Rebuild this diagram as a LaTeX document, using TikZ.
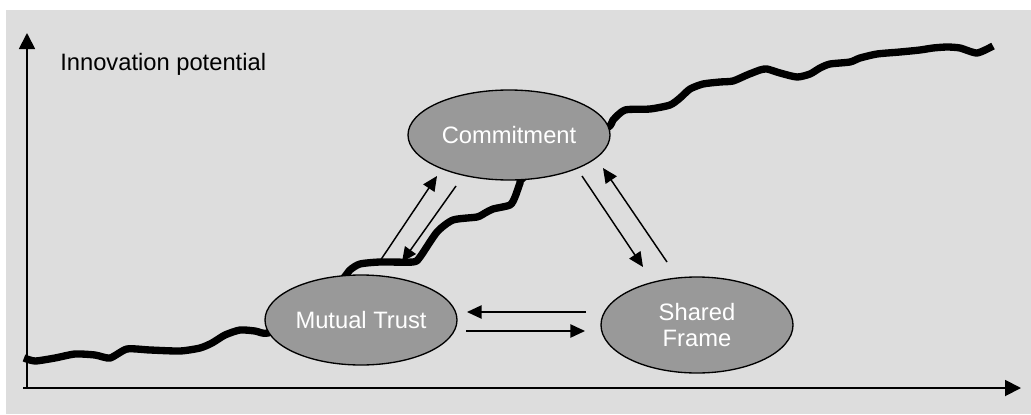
\documentclass[tikz,border=0pt]{standalone}
\usepackage{fontspec}
\setmainfont{Liberation Sans}
\usetikzlibrary{arrows.meta,shapes.geometric}
\definecolor{panel}{HTML}{DDDDDD}
\definecolor{bubblefill}{HTML}{999999}
\begin{document}
\begin{tikzpicture}[x=0.75pt,y=-0.75pt,
  bubble/.style={ellipse,draw=black,line width=1pt,fill=bubblefill,text=white,
    inner sep=0pt,align=center,font=\fontsize{17.8}{19.5}\selectfont},
  axis/.style={line width=1.4pt,-{Triangle[length=12pt,width=12pt]}},
  link/.style={line width=1.1pt,-{Triangle[length=11pt,width=10pt]}},
  growth/.style={line width=5.5pt,line join=round}]
\useasboundingbox (0,0) rectangle (1031,414);
\fill[panel] (6,10) rectangle (1031,414);

% axes
\coordinate (origin) at (27,388);
\coordinate (ytop) at (27,33);
\coordinate (xstart) at (23,388);
\coordinate (xend) at (1021,388);
\draw[axis] (origin) -- (ytop);
\draw[axis] (xstart) -- (xend);
\node[anchor=base west,inner sep=0pt,font=\fontsize{17.8}{19.5}\selectfont] (ylabel) at (60,70) {Innovation potential};

% growth curve (runs behind the ellipses)
\draw[growth] plot[smooth,tension=0.4] coordinates {
  (24,358) (35,361) (55,358) (75,354) (95,355) (110,358) (127,349) (150,350)
  (180,351) (200,348) (212,343) (225,335) (240,330) (255,331) (268,333)
  (300,318) (340,282) (350,270) (360,264) (380,262) (413,262) (420,257)
  (437,232) (453,220) (477,217) (485,213) (493,209) (510,205) (515,197)
  (520,183) (523,178) (560,150) (607,128) (613,120) (625,110) (650,109)
  (670,105) (680,98) (690,89) (703,84) (720,82) (733,81) (747,75) (760,70)
  (767,69) (780,73) (797,77) (810,74) (820,68) (830,64) (850,62) (860,58)
  (877,54) (900,52) (920,50) (933,48) (947,47) (960,48) (977,53) (993,46)};

% the three factors
\node[bubble,minimum width=151.5pt,minimum height=67.5pt] (ct) at (509,135) {Commitment};
\node[bubble,minimum width=144pt,minimum height=67.5pt] (mt) at (361,320) {Mutual Trust};
\node[bubble,minimum width=144pt,minimum height=72pt] (sf) at (697,325) {Shared\\Frame};

% arrow ends between the factors
\coordinate (mtct1) at (380,261);
\coordinate (ctmt1) at (437,176);
\coordinate (ctmt2) at (456,186);
\coordinate (mtct2) at (402,262);
\coordinate (ctsf1) at (582,176);
\coordinate (sfct1) at (643,267);
\coordinate (sfct2) at (667,262);
\coordinate (ctsf2) at (603,168);
\coordinate (sfmt1) at (586,312);
\coordinate (mtsf1) at (467,312);
\coordinate (mtsf2) at (466,331);
\coordinate (sfmt2) at (585,331);

\draw[link] (mtct1) -- (ctmt1);
\draw[link] (ctmt2) -- (mtct2);
\draw[link] (ctsf1) -- (sfct1);
\draw[link] (sfct2) -- (ctsf2);
\draw[link] (sfmt1) -- (mtsf1);
\draw[link] (mtsf2) -- (sfmt2);
\end{tikzpicture}
\end{document}
